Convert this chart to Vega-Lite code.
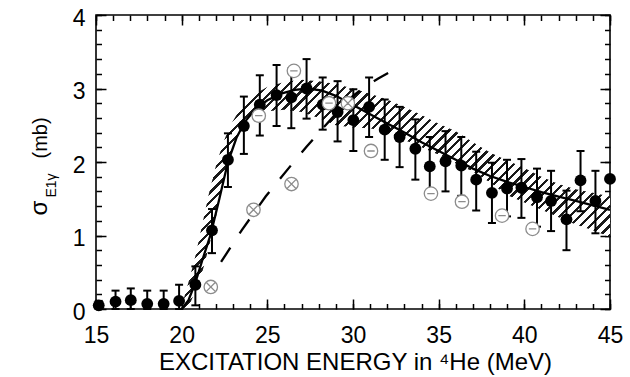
{
  "$schema": "https://vega.github.io/schema/vega-lite/v6.json",
  "width": 514,
  "height": 294,
  "autosize": "none",
  "padding": {"left": 96, "top": 15, "right": 20, "bottom": 68},
  "background": "white",
  "config": {
    "font": "Liberation Sans",
    "view": {"stroke": "#000", "strokeWidth": 1.6},
    "axis": {
      "domain": false,
      "grid": false,
      "tickColor": "#000",
      "tickWidth": 1.5,
      "labelFont": "Liberation Sans",
      "labelColor": "#000",
      "labelFlush": false,
      "labelOverlap": false,
      "labelBound": false,
      "titleFont": "Liberation Sans",
      "titleColor": "#000",
      "titleFontWeight": "normal"
    }
  },
  "datasets": {
    "band": [
      {"x": 20.1, "lo": 0.0, "hi": 0.12},
      {"x": 20.5, "lo": 0.08, "hi": 0.45},
      {"x": 20.8, "lo": 0.25, "hi": 0.72},
      {"x": 21.2, "lo": 0.5, "hi": 1.15},
      {"x": 21.6, "lo": 0.85, "hi": 1.58},
      {"x": 22.0, "lo": 1.25, "hi": 1.95},
      {"x": 22.4, "lo": 1.7, "hi": 2.25},
      {"x": 22.8, "lo": 2.08, "hi": 2.48},
      {"x": 23.3, "lo": 2.38, "hi": 2.68},
      {"x": 23.8, "lo": 2.55, "hi": 2.83},
      {"x": 24.3, "lo": 2.63, "hi": 2.93},
      {"x": 25.0, "lo": 2.69, "hi": 3.02},
      {"x": 26.0, "lo": 2.71, "hi": 3.09},
      {"x": 27.0, "lo": 2.68, "hi": 3.12},
      {"x": 28.0, "lo": 2.6, "hi": 3.1},
      {"x": 29.0, "lo": 2.5, "hi": 3.06},
      {"x": 30.0, "lo": 2.47, "hi": 3.0},
      {"x": 31.0, "lo": 2.46, "hi": 2.93},
      {"x": 32.0, "lo": 2.4, "hi": 2.85},
      {"x": 33.0, "lo": 2.3, "hi": 2.75},
      {"x": 34.0, "lo": 2.2, "hi": 2.64},
      {"x": 35.0, "lo": 2.1, "hi": 2.52},
      {"x": 36.0, "lo": 1.98, "hi": 2.42},
      {"x": 37.0, "lo": 1.87, "hi": 2.27},
      {"x": 38.0, "lo": 1.72, "hi": 2.13},
      {"x": 39.0, "lo": 1.55, "hi": 2.02},
      {"x": 40.0, "lo": 1.45, "hi": 1.92},
      {"x": 41.0, "lo": 1.35, "hi": 1.8},
      {"x": 42.0, "lo": 1.25, "hi": 1.7},
      {"x": 43.0, "lo": 1.15, "hi": 1.63},
      {"x": 44.0, "lo": 1.07, "hi": 1.58},
      {"x": 45.0, "lo": 0.98, "hi": 1.53}
    ],
    "theory": [
      {"x": 20.0, "y": 0.0},
      {"x": 20.4, "y": 0.12},
      {"x": 20.8, "y": 0.36},
      {"x": 21.2, "y": 0.66},
      {"x": 21.7, "y": 1.02},
      {"x": 22.2, "y": 1.5},
      {"x": 22.7, "y": 2.0},
      {"x": 23.2, "y": 2.33},
      {"x": 23.7, "y": 2.55},
      {"x": 24.3, "y": 2.72},
      {"x": 25.0, "y": 2.84},
      {"x": 25.8, "y": 2.93},
      {"x": 26.6, "y": 2.98},
      {"x": 27.4, "y": 3.0},
      {"x": 28.2, "y": 2.97},
      {"x": 29.0, "y": 2.9},
      {"x": 29.8, "y": 2.8},
      {"x": 30.6, "y": 2.7},
      {"x": 31.4, "y": 2.6},
      {"x": 32.2, "y": 2.5},
      {"x": 33.0, "y": 2.4},
      {"x": 34.0, "y": 2.27},
      {"x": 35.0, "y": 2.15},
      {"x": 36.0, "y": 2.03},
      {"x": 37.0, "y": 1.91},
      {"x": 38.0, "y": 1.81},
      {"x": 39.0, "y": 1.73},
      {"x": 40.0, "y": 1.66},
      {"x": 41.0, "y": 1.59},
      {"x": 42.0, "y": 1.53},
      {"x": 43.0, "y": 1.47},
      {"x": 44.0, "y": 1.41},
      {"x": 45.0, "y": 1.35}
    ],
    "dash": [
      {"x": 22.3, "y": 0.64},
      {"x": 23.5, "y": 1.07},
      {"x": 24.9, "y": 1.53},
      {"x": 26.4, "y": 1.96},
      {"x": 27.3, "y": 2.21},
      {"x": 28.2, "y": 2.45},
      {"x": 29.1, "y": 2.68},
      {"x": 30.0, "y": 2.9},
      {"x": 30.8, "y": 3.04},
      {"x": 31.5, "y": 3.14},
      {"x": 32.05, "y": 3.21}
    ],
    "filled": [
      {"x": 15.16, "y": 0.05, "lo": 0.0, "hi": 0.11},
      {"x": 16.14, "y": 0.1, "lo": 0.0, "hi": 0.25},
      {"x": 17.03, "y": 0.12, "lo": 0.0, "hi": 0.28},
      {"x": 17.99, "y": 0.07, "lo": 0.0, "hi": 0.25},
      {"x": 18.95, "y": 0.07, "lo": 0.0, "hi": 0.25},
      {"x": 19.85, "y": 0.11, "lo": 0.0, "hi": 0.33},
      {"x": 20.8, "y": 0.33, "lo": 0.05, "hi": 0.58},
      {"x": 21.77, "y": 1.07, "lo": 0.76, "hi": 1.36},
      {"x": 22.7, "y": 2.03, "lo": 1.66, "hi": 2.39},
      {"x": 23.63, "y": 2.49, "lo": 2.11, "hi": 2.89},
      {"x": 24.56, "y": 2.78, "lo": 2.36, "hi": 3.18},
      {"x": 25.54, "y": 2.91, "lo": 2.49, "hi": 3.32},
      {"x": 26.4, "y": 2.88, "lo": 2.46, "hi": 3.27},
      {"x": 27.29, "y": 3.0, "lo": 2.59, "hi": 3.4},
      {"x": 28.23, "y": 2.78, "lo": 2.44, "hi": 3.15},
      {"x": 29.1, "y": 2.68, "lo": 2.28, "hi": 3.1},
      {"x": 30.02, "y": 2.57, "lo": 2.15, "hi": 2.99},
      {"x": 30.94, "y": 2.75, "lo": 2.34, "hi": 3.15},
      {"x": 31.85, "y": 2.44, "lo": 2.03, "hi": 2.85},
      {"x": 32.72, "y": 2.34, "lo": 1.93, "hi": 2.75},
      {"x": 33.64, "y": 2.18, "lo": 1.76, "hi": 2.58},
      {"x": 34.48, "y": 1.94, "lo": 1.54, "hi": 2.34},
      {"x": 35.4, "y": 2.01, "lo": 1.6, "hi": 2.42},
      {"x": 36.32, "y": 1.95, "lo": 1.54, "hi": 2.34},
      {"x": 37.19, "y": 1.76, "lo": 1.34, "hi": 2.14},
      {"x": 38.11, "y": 1.58, "lo": 1.17, "hi": 1.99},
      {"x": 38.99, "y": 1.64, "lo": 1.26, "hi": 2.03},
      {"x": 39.83, "y": 1.65, "lo": 1.24, "hi": 2.04},
      {"x": 40.74, "y": 1.52, "lo": 1.12, "hi": 1.91},
      {"x": 41.56, "y": 1.47, "lo": 1.06, "hi": 1.88},
      {"x": 42.46, "y": 1.22, "lo": 0.8, "hi": 1.61},
      {"x": 43.28, "y": 1.75, "lo": 1.33, "hi": 2.15},
      {"x": 44.15, "y": 1.47, "lo": 1.03, "hi": 1.88},
      {"x": 45.0, "y": 1.77, "lo": null, "hi": null}
    ],
    "minus": [
      {"x": 24.5, "y": 2.63},
      {"x": 26.55, "y": 3.24},
      {"x": 28.6, "y": 2.8},
      {"x": 31.05, "y": 2.15},
      {"x": 34.55, "y": 1.57},
      {"x": 36.36, "y": 1.46},
      {"x": 38.7, "y": 1.27},
      {"x": 40.48, "y": 1.09}
    ],
    "cross": [
      {"x": 21.7, "y": 0.3},
      {"x": 24.19, "y": 1.35},
      {"x": 26.41, "y": 1.7},
      {"x": 29.7, "y": 2.8}
    ]
  },
  "layer": [
    {
      "data": {"name": "band"},
      "mark": {
        "type": "area",
        "fill": {
          "gradient": "linear",
          "x1": 0, "y1": 0, "x2": 1.193, "y2": 0.641,
          "stops": [
            {"offset": 0, "color": "#1a1a1a"}, {"offset": 0.005, "color": "#1a1a1a"}, {"offset": 0.005, "color": "#fff"}, {"offset": 0.015, "color": "#fff"},
            {"offset": 0.015, "color": "#1a1a1a"}, {"offset": 0.02, "color": "#1a1a1a"}, {"offset": 0.02, "color": "#fff"}, {"offset": 0.03, "color": "#fff"},
            {"offset": 0.03, "color": "#1a1a1a"}, {"offset": 0.035, "color": "#1a1a1a"}, {"offset": 0.035, "color": "#fff"}, {"offset": 0.045, "color": "#fff"},
            {"offset": 0.045, "color": "#1a1a1a"}, {"offset": 0.05, "color": "#1a1a1a"}, {"offset": 0.05, "color": "#fff"}, {"offset": 0.06, "color": "#fff"},
            {"offset": 0.06, "color": "#1a1a1a"}, {"offset": 0.065, "color": "#1a1a1a"}, {"offset": 0.065, "color": "#fff"}, {"offset": 0.075, "color": "#fff"},
            {"offset": 0.075, "color": "#1a1a1a"}, {"offset": 0.08, "color": "#1a1a1a"}, {"offset": 0.08, "color": "#fff"}, {"offset": 0.09, "color": "#fff"},
            {"offset": 0.09, "color": "#1a1a1a"}, {"offset": 0.095, "color": "#1a1a1a"}, {"offset": 0.095, "color": "#fff"}, {"offset": 0.105, "color": "#fff"},
            {"offset": 0.105, "color": "#1a1a1a"}, {"offset": 0.11, "color": "#1a1a1a"}, {"offset": 0.11, "color": "#fff"}, {"offset": 0.12, "color": "#fff"},
            {"offset": 0.12, "color": "#1a1a1a"}, {"offset": 0.125, "color": "#1a1a1a"}, {"offset": 0.125, "color": "#fff"}, {"offset": 0.135, "color": "#fff"},
            {"offset": 0.135, "color": "#1a1a1a"}, {"offset": 0.14, "color": "#1a1a1a"}, {"offset": 0.14, "color": "#fff"}, {"offset": 0.15, "color": "#fff"},
            {"offset": 0.15, "color": "#1a1a1a"}, {"offset": 0.155, "color": "#1a1a1a"}, {"offset": 0.155, "color": "#fff"}, {"offset": 0.165, "color": "#fff"},
            {"offset": 0.165, "color": "#1a1a1a"}, {"offset": 0.17, "color": "#1a1a1a"}, {"offset": 0.17, "color": "#fff"}, {"offset": 0.18, "color": "#fff"},
            {"offset": 0.18, "color": "#1a1a1a"}, {"offset": 0.185, "color": "#1a1a1a"}, {"offset": 0.185, "color": "#fff"}, {"offset": 0.195, "color": "#fff"},
            {"offset": 0.195, "color": "#1a1a1a"}, {"offset": 0.2, "color": "#1a1a1a"}, {"offset": 0.2, "color": "#fff"}, {"offset": 0.21, "color": "#fff"},
            {"offset": 0.21, "color": "#1a1a1a"}, {"offset": 0.215, "color": "#1a1a1a"}, {"offset": 0.215, "color": "#fff"}, {"offset": 0.225, "color": "#fff"},
            {"offset": 0.225, "color": "#1a1a1a"}, {"offset": 0.23, "color": "#1a1a1a"}, {"offset": 0.23, "color": "#fff"}, {"offset": 0.24, "color": "#fff"},
            {"offset": 0.24, "color": "#1a1a1a"}, {"offset": 0.245, "color": "#1a1a1a"}, {"offset": 0.245, "color": "#fff"}, {"offset": 0.255, "color": "#fff"},
            {"offset": 0.255, "color": "#1a1a1a"}, {"offset": 0.26, "color": "#1a1a1a"}, {"offset": 0.26, "color": "#fff"}, {"offset": 0.27, "color": "#fff"},
            {"offset": 0.27, "color": "#1a1a1a"}, {"offset": 0.275, "color": "#1a1a1a"}, {"offset": 0.275, "color": "#fff"}, {"offset": 0.285, "color": "#fff"},
            {"offset": 0.285, "color": "#1a1a1a"}, {"offset": 0.29, "color": "#1a1a1a"}, {"offset": 0.29, "color": "#fff"}, {"offset": 0.3, "color": "#fff"},
            {"offset": 0.3, "color": "#1a1a1a"}, {"offset": 0.305, "color": "#1a1a1a"}, {"offset": 0.305, "color": "#fff"}, {"offset": 0.315, "color": "#fff"},
            {"offset": 0.315, "color": "#1a1a1a"}, {"offset": 0.32, "color": "#1a1a1a"}, {"offset": 0.32, "color": "#fff"}, {"offset": 0.33, "color": "#fff"},
            {"offset": 0.33, "color": "#1a1a1a"}, {"offset": 0.335, "color": "#1a1a1a"}, {"offset": 0.335, "color": "#fff"}, {"offset": 0.345, "color": "#fff"},
            {"offset": 0.345, "color": "#1a1a1a"}, {"offset": 0.35, "color": "#1a1a1a"}, {"offset": 0.35, "color": "#fff"}, {"offset": 0.36, "color": "#fff"},
            {"offset": 0.36, "color": "#1a1a1a"}, {"offset": 0.365, "color": "#1a1a1a"}, {"offset": 0.365, "color": "#fff"}, {"offset": 0.375, "color": "#fff"},
            {"offset": 0.375, "color": "#1a1a1a"}, {"offset": 0.38, "color": "#1a1a1a"}, {"offset": 0.38, "color": "#fff"}, {"offset": 0.39, "color": "#fff"},
            {"offset": 0.39, "color": "#1a1a1a"}, {"offset": 0.395, "color": "#1a1a1a"}, {"offset": 0.395, "color": "#fff"}, {"offset": 0.405, "color": "#fff"},
            {"offset": 0.405, "color": "#1a1a1a"}, {"offset": 0.41, "color": "#1a1a1a"}, {"offset": 0.41, "color": "#fff"}, {"offset": 0.42, "color": "#fff"},
            {"offset": 0.42, "color": "#1a1a1a"}, {"offset": 0.425, "color": "#1a1a1a"}, {"offset": 0.425, "color": "#fff"}, {"offset": 0.435, "color": "#fff"},
            {"offset": 0.435, "color": "#1a1a1a"}, {"offset": 0.44, "color": "#1a1a1a"}, {"offset": 0.44, "color": "#fff"}, {"offset": 0.45, "color": "#fff"},
            {"offset": 0.45, "color": "#1a1a1a"}, {"offset": 0.455, "color": "#1a1a1a"}, {"offset": 0.455, "color": "#fff"}, {"offset": 0.465, "color": "#fff"},
            {"offset": 0.465, "color": "#1a1a1a"}, {"offset": 0.47, "color": "#1a1a1a"}, {"offset": 0.47, "color": "#fff"}, {"offset": 0.48, "color": "#fff"},
            {"offset": 0.48, "color": "#1a1a1a"}, {"offset": 0.485, "color": "#1a1a1a"}, {"offset": 0.485, "color": "#fff"}, {"offset": 0.495, "color": "#fff"},
            {"offset": 0.495, "color": "#1a1a1a"}, {"offset": 0.5, "color": "#1a1a1a"}, {"offset": 0.5, "color": "#fff"}, {"offset": 0.51, "color": "#fff"},
            {"offset": 0.51, "color": "#1a1a1a"}, {"offset": 0.515, "color": "#1a1a1a"}, {"offset": 0.515, "color": "#fff"}, {"offset": 0.525, "color": "#fff"},
            {"offset": 0.525, "color": "#1a1a1a"}, {"offset": 0.53, "color": "#1a1a1a"}, {"offset": 0.53, "color": "#fff"}, {"offset": 0.54, "color": "#fff"},
            {"offset": 0.54, "color": "#1a1a1a"}, {"offset": 0.545, "color": "#1a1a1a"}, {"offset": 0.545, "color": "#fff"}, {"offset": 0.555, "color": "#fff"},
            {"offset": 0.555, "color": "#1a1a1a"}, {"offset": 0.56, "color": "#1a1a1a"}, {"offset": 0.56, "color": "#fff"}, {"offset": 0.57, "color": "#fff"},
            {"offset": 0.57, "color": "#1a1a1a"}, {"offset": 0.575, "color": "#1a1a1a"}, {"offset": 0.575, "color": "#fff"}, {"offset": 0.585, "color": "#fff"},
            {"offset": 0.585, "color": "#1a1a1a"}, {"offset": 0.59, "color": "#1a1a1a"}, {"offset": 0.59, "color": "#fff"}, {"offset": 0.6, "color": "#fff"},
            {"offset": 0.6, "color": "#1a1a1a"}, {"offset": 0.605, "color": "#1a1a1a"}, {"offset": 0.605, "color": "#fff"}, {"offset": 0.615, "color": "#fff"},
            {"offset": 0.615, "color": "#1a1a1a"}, {"offset": 0.62, "color": "#1a1a1a"}, {"offset": 0.62, "color": "#fff"}, {"offset": 0.63, "color": "#fff"},
            {"offset": 0.63, "color": "#1a1a1a"}, {"offset": 0.635, "color": "#1a1a1a"}, {"offset": 0.635, "color": "#fff"}, {"offset": 0.645, "color": "#fff"},
            {"offset": 0.645, "color": "#1a1a1a"}, {"offset": 0.65, "color": "#1a1a1a"}, {"offset": 0.65, "color": "#fff"}, {"offset": 0.66, "color": "#fff"},
            {"offset": 0.66, "color": "#1a1a1a"}, {"offset": 0.665, "color": "#1a1a1a"}, {"offset": 0.665, "color": "#fff"}, {"offset": 0.675, "color": "#fff"},
            {"offset": 0.675, "color": "#1a1a1a"}, {"offset": 0.68, "color": "#1a1a1a"}, {"offset": 0.68, "color": "#fff"}, {"offset": 0.69, "color": "#fff"},
            {"offset": 0.69, "color": "#1a1a1a"}, {"offset": 0.695, "color": "#1a1a1a"}, {"offset": 0.695, "color": "#fff"}, {"offset": 0.705, "color": "#fff"},
            {"offset": 0.705, "color": "#1a1a1a"}, {"offset": 0.71, "color": "#1a1a1a"}, {"offset": 0.71, "color": "#fff"}, {"offset": 0.72, "color": "#fff"},
            {"offset": 0.72, "color": "#1a1a1a"}, {"offset": 0.725, "color": "#1a1a1a"}, {"offset": 0.725, "color": "#fff"}, {"offset": 0.735, "color": "#fff"},
            {"offset": 0.735, "color": "#1a1a1a"}, {"offset": 0.74, "color": "#1a1a1a"}, {"offset": 0.74, "color": "#fff"}, {"offset": 0.75, "color": "#fff"},
            {"offset": 0.75, "color": "#1a1a1a"}, {"offset": 0.755, "color": "#1a1a1a"}, {"offset": 0.755, "color": "#fff"}, {"offset": 0.765, "color": "#fff"},
            {"offset": 0.765, "color": "#1a1a1a"}, {"offset": 0.77, "color": "#1a1a1a"}, {"offset": 0.77, "color": "#fff"}, {"offset": 0.78, "color": "#fff"},
            {"offset": 0.78, "color": "#1a1a1a"}, {"offset": 0.785, "color": "#1a1a1a"}, {"offset": 0.785, "color": "#fff"}, {"offset": 0.795, "color": "#fff"},
            {"offset": 0.795, "color": "#1a1a1a"}, {"offset": 0.8, "color": "#1a1a1a"}, {"offset": 0.8, "color": "#fff"}, {"offset": 0.81, "color": "#fff"},
            {"offset": 0.81, "color": "#1a1a1a"}, {"offset": 0.815, "color": "#1a1a1a"}, {"offset": 0.815, "color": "#fff"}, {"offset": 0.825, "color": "#fff"},
            {"offset": 0.825, "color": "#1a1a1a"}, {"offset": 0.83, "color": "#1a1a1a"}, {"offset": 0.83, "color": "#fff"}, {"offset": 0.84, "color": "#fff"},
            {"offset": 0.84, "color": "#1a1a1a"}, {"offset": 0.845, "color": "#1a1a1a"}, {"offset": 0.845, "color": "#fff"}, {"offset": 0.855, "color": "#fff"},
            {"offset": 0.855, "color": "#1a1a1a"}, {"offset": 0.86, "color": "#1a1a1a"}, {"offset": 0.86, "color": "#fff"}, {"offset": 0.87, "color": "#fff"},
            {"offset": 0.87, "color": "#1a1a1a"}, {"offset": 0.875, "color": "#1a1a1a"}, {"offset": 0.875, "color": "#fff"}, {"offset": 0.885, "color": "#fff"},
            {"offset": 0.885, "color": "#1a1a1a"}, {"offset": 0.89, "color": "#1a1a1a"}, {"offset": 0.89, "color": "#fff"}, {"offset": 0.9, "color": "#fff"},
            {"offset": 0.9, "color": "#1a1a1a"}, {"offset": 0.905, "color": "#1a1a1a"}, {"offset": 0.905, "color": "#fff"}, {"offset": 0.915, "color": "#fff"},
            {"offset": 0.915, "color": "#1a1a1a"}, {"offset": 0.92, "color": "#1a1a1a"}, {"offset": 0.92, "color": "#fff"}, {"offset": 0.93, "color": "#fff"},
            {"offset": 0.93, "color": "#1a1a1a"}, {"offset": 0.935, "color": "#1a1a1a"}, {"offset": 0.935, "color": "#fff"}, {"offset": 0.945, "color": "#fff"},
            {"offset": 0.945, "color": "#1a1a1a"}, {"offset": 0.95, "color": "#1a1a1a"}, {"offset": 0.95, "color": "#fff"}, {"offset": 0.96, "color": "#fff"},
            {"offset": 0.96, "color": "#1a1a1a"}, {"offset": 0.965, "color": "#1a1a1a"}, {"offset": 0.965, "color": "#fff"}, {"offset": 0.975, "color": "#fff"},
            {"offset": 0.975, "color": "#1a1a1a"}, {"offset": 0.98, "color": "#1a1a1a"}, {"offset": 0.98, "color": "#fff"}, {"offset": 0.99, "color": "#fff"},
            {"offset": 0.99, "color": "#1a1a1a"}, {"offset": 0.995, "color": "#1a1a1a"}, {"offset": 0.995, "color": "#fff"}, {"offset": 1, "color": "#fff"}
          ]
        }
      },
      "encoding": {
        "x": {"field": "x", "type": "quantitative", "scale": {"domain": [15, 45], "nice": false, "zero": false},
          "axis": {"orient": "bottom", "values": [15, 20, 25, 30, 35, 40, 45], "tickSize": -10, "labelPadding": 25.8, "labelFontSize": 23,
            "title": "EXCITATION ENERGY in ⁴He (MeV)", "titleFontSize": 24, "titleX": 259, "titleY": 60, "titleAlign": "center", "titleBaseline": "alphabetic", "titleAngle": 0}},
        "y": {"field": "hi", "type": "quantitative", "scale": {"domain": [0, 4], "nice": false, "zero": false},
          "axis": {"orient": "left", "values": [0, 1, 2, 3, 4], "tickSize": -10, "labelPadding": 21, "labelFontSize": 23, "labelOffset": 3,
            "title": "σ", "titleFontSize": 24, "titleX": -49.5, "titleY": 200, "titleAngle": -90, "titleAlign": "left", "titleBaseline": "alphabetic"}},
        "y2": {"field": "lo"}
      }
    },
    {
      "data": {"name": "theory"},
      "mark": {"type": "line", "color": "#000", "strokeWidth": 2.3},
      "encoding": {
        "x": {"field": "x", "type": "quantitative", "scale": {"domain": [15, 45], "nice": false, "zero": false},
          "axis": {"orient": "bottom", "values": [15,16,17,18,19,20,21,22,23,24,25,26,27,28,29,30,31,32,33,34,35,36,37,38,39,40,41,42,43,44,45], "tickSize": -5.5, "labels": false, "title": null}},
        "y": {"field": "y", "type": "quantitative", "scale": {"domain": [0, 4], "nice": false, "zero": false},
          "axis": {"orient": "left", "values": [0,0.2,0.4,0.6,0.8,1,1.2,1.4,1.6,1.8,2,2.2,2.4,2.6,2.8,3,3.2,3.4,3.6,3.8,4], "tickSize": -5.5, "labels": false,
            "title": "E1γ", "titleFontSize": 14, "titleX": -41, "titleY": 182, "titleAngle": -90, "titleAlign": "left", "titleBaseline": "alphabetic"}}
      }
    },
    {
      "data": {"name": "dash"},
      "mark": {"type": "line", "color": "#000", "strokeWidth": 2.3, "strokeDash": [17, 17]},
      "encoding": {
        "x": {"field": "x", "type": "quantitative", "scale": {"domain": [15, 45], "nice": false, "zero": false}, "axis": null},
        "y": {"field": "y", "type": "quantitative", "scale": {"domain": [0, 4], "nice": false, "zero": false}, "axis": null}
      }
    },
    {
      "data": {"name": "filled"},
      "mark": {"type": "rule", "color": "#000", "strokeWidth": 2},
      "encoding": {
        "x": {"field": "x", "type": "quantitative", "scale": {"domain": [15, 45], "nice": false, "zero": false}, "axis": null},
        "y": {"field": "lo", "type": "quantitative", "scale": {"domain": [0, 4], "nice": false, "zero": false}, "axis": null},
        "y2": {"field": "hi"}
      }
    },
    {
      "data": {"name": "filled"},
      "mark": {"type": "tick", "orient": "horizontal", "color": "#000", "size": 8, "thickness": 2, "opacity": 1},
      "encoding": {
        "x": {"field": "x", "type": "quantitative", "scale": {"domain": [15, 45], "nice": false, "zero": false}, "axis": null},
        "y": {"field": "hi", "type": "quantitative", "scale": {"domain": [0, 4], "nice": false, "zero": false}, "axis": null}
      }
    },
    {
      "data": {"name": "filled"},
      "mark": {"type": "tick", "orient": "horizontal", "color": "#000", "size": 8, "thickness": 2, "opacity": 1},
      "encoding": {
        "x": {"field": "x", "type": "quantitative", "scale": {"domain": [15, 45], "nice": false, "zero": false}, "axis": null},
        "y": {"field": "lo", "type": "quantitative", "scale": {"domain": [0, 4], "nice": false, "zero": false}, "axis": null}
      }
    },
    {
      "data": {"name": "filled"},
      "mark": {"type": "point", "shape": "circle", "filled": true, "color": "#000", "opacity": 1, "size": 140},
      "encoding": {
        "x": {"field": "x", "type": "quantitative", "scale": {"domain": [15, 45], "nice": false, "zero": false},
          "axis": {"orient": "top", "values": [15, 20, 25, 30, 35, 40, 45], "tickSize": -10, "labels": false, "title": null}},
        "y": {"field": "y", "type": "quantitative", "scale": {"domain": [0, 4], "nice": false, "zero": false},
          "axis": {"orient": "right", "values": [0, 1, 2, 3, 4], "tickSize": -10, "labels": false,
            "title": "(mb)", "titleFontSize": 20, "titleX": -564, "titleY": 143, "titleAngle": -90, "titleAlign": "left", "titleBaseline": "alphabetic"}}
      }
    },
    {
      "data": {"name": "minus"},
      "mark": {"type": "point", "shape": "M-1,0A1,1 0 1,0 1,0A1,1 0 1,0 -1,0ZM-0.55,0L0.55,0", "fill": "#fff", "fillOpacity": 1, "stroke": "#8c8c8c", "strokeWidth": 1.3, "opacity": 1, "size": 180},
      "encoding": {
        "x": {"field": "x", "type": "quantitative", "scale": {"domain": [15, 45], "nice": false, "zero": false},
          "axis": {"orient": "top", "values": [15,16,17,18,19,20,21,22,23,24,25,26,27,28,29,30,31,32,33,34,35,36,37,38,39,40,41,42,43,44,45], "tickSize": -5.5, "labels": false, "title": null}},
        "y": {"field": "y", "type": "quantitative", "scale": {"domain": [0, 4], "nice": false, "zero": false},
          "axis": {"orient": "right", "values": [0,0.2,0.4,0.6,0.8,1,1.2,1.4,1.6,1.8,2,2.2,2.4,2.6,2.8,3,3.2,3.4,3.6,3.8,4], "tickSize": -5.5, "labels": false, "title": null}}
      }
    },
    {
      "data": {"name": "cross"},
      "mark": {"type": "point", "shape": "M-1,0A1,1 0 1,0 1,0A1,1 0 1,0 -1,0ZM-0.62,-0.62L0.62,0.62M-0.62,0.62L0.62,-0.62", "fill": "#fff", "fillOpacity": 1, "stroke": "#8c8c8c", "strokeWidth": 1.3, "opacity": 1, "size": 180},
      "encoding": {
        "x": {"field": "x", "type": "quantitative", "scale": {"domain": [15, 45], "nice": false, "zero": false}, "axis": null},
        "y": {"field": "y", "type": "quantitative", "scale": {"domain": [0, 4], "nice": false, "zero": false}, "axis": null}
      }
    }
  ],
  "resolve": {"axis": {"x": "independent", "y": "independent"}}
}
